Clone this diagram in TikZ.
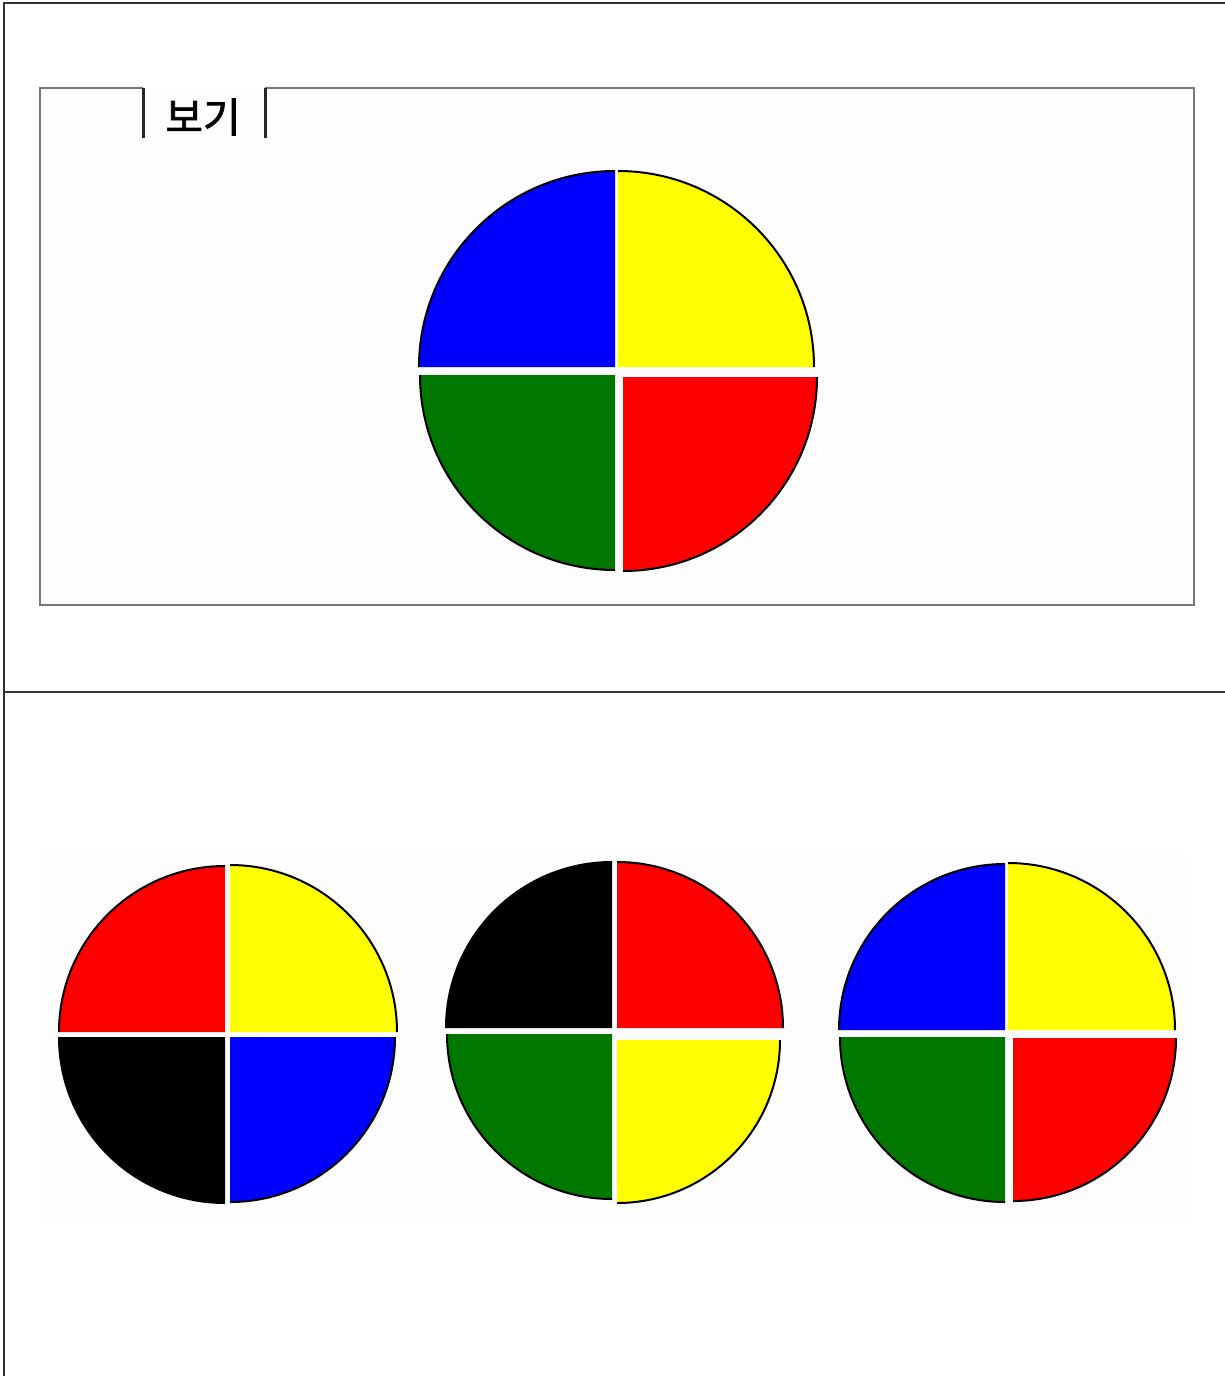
\documentclass[tikz,border=0pt]{standalone}
\usepackage{fontspec}
\newfontfamily\krfont[FakeBold=1.6]{Noto Sans CJK KR}
\definecolor{qgreen}{HTML}{007800}
\definecolor{qyellow}{HTML}{FFFF00}
\definecolor{frameline}{HTML}{333333}
\definecolor{boxline}{HTML}{777777}
\tikzset{
  outerframe/.style={draw=frameline, line width=1.5pt},
  examplebox/.style={draw=boxline, line width=2.2pt},
  tickmark/.style={draw=black!85, line width=3pt},
  arcline/.style={draw=black, line width=2pt},
}
% \qd{color}{cx}{cy}{r}{start angle}
\newcommand\qd[5]{%
  \fill[#1] (#2,#3) -- ++(#5:#4pt) arc[start angle=#5, delta angle=90, radius=#4pt] -- cycle;
  \draw[arcline] (#2,#3) ++(#5:#4pt) arc[start angle=#5, delta angle=90, radius=#4pt];
}
\begin{document}
\begin{tikzpicture}[x=1pt,y=-1pt]
\useasboundingbox (0,0) rectangle (1225,1376);
\fill[white] (0,0) rectangle (1225,1376);
% outer frame
\draw[outerframe] (4,1376) -- (4,3) -- (1225,3);
\draw[outerframe] (4,692) -- (1225,692);
% example box
\fill[black!0.8] (40,88) rectangle (1194,605);
\draw[examplebox] (143,88) -- (40,88) -- (40,605) -- (1194,605) -- (1194,88) -- (265,88);
\draw[tickmark] (143,88) -- (143,138);
\draw[tickmark] (265,88) -- (265,138);
\node[inner sep=0pt, font=\krfont\fontsize{41}{48}\selectfont] (label) at (203,117) {보기};
% top circle
\qd{blue}{615}{367}{196}{90}
\qd{qyellow}{618}{367}{196}{0}
\qd{qgreen}{615}{375}{195}{180}
\qd{red}{623}{377}{194}{270}
% bottom strip
\fill[black!0.8] (40,855) rectangle (1190,1220);
% circle 1
\qd{red}{225}{1032}{166}{90}
\qd{qyellow}{230}{1032}{167}{0}
\qd{black}{225}{1037}{166}{180}
\qd{blue}{230}{1037}{165}{270}
% circle 2
\qd{black}{612}{1028}{166}{90}
\qd{red}{617}{1028}{166}{0}
\qd{qgreen}{612}{1034}{165}{180}
\qd{qyellow}{617}{1040}{163}{270}
% circle 3
\qd{blue}{1005}{1030}{166}{90}
\qd{qyellow}{1008}{1030}{167}{0}
\qd{qgreen}{1005}{1037}{165}{180}
\qd{red}{1013}{1038}{163}{270}
\end{tikzpicture}
\end{document}
